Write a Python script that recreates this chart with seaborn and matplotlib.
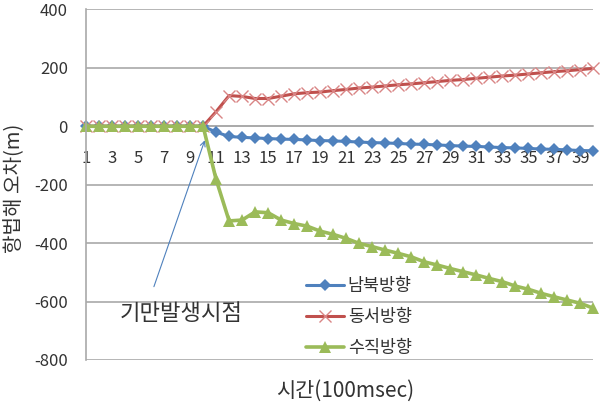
import numpy as np
import pandas as pd
import matplotlib
matplotlib.use('Agg')
import matplotlib.pyplot as plt
import seaborn as sns

sns.set_theme(style='white')
plt.rcParams['font.family'] = ['Noto Sans CJK KR', 'DejaVu Sans']

# time steps (100 msec)
steps = list(range(1, 41))

# 남북방향 (north-south)
ns_err = [0] * 10 + [-20, -35, -38, -40, -42, -44, -45, -47, -49, -50,
                     -52, -54, -56, -57, -59, -61, -62, -64, -66, -68,
                     -69, -71, -73, -74, -76, -78, -79, -81, -83, -84]
# 동서방향 (east-west)
ew_err = [0] * 10 + [50, 105, 102, 95, 95, 103, 111, 115, 117, 122,
                     126, 131, 134, 138, 142, 145, 149, 153, 157, 160,
                     164, 168, 172, 175, 179, 183, 187, 190, 194, 198]
# 수직방향 (vertical)
vt_err = [0] * 10 + [-182, -324, -321, -293, -296, -321, -333, -342, -359, -370,
                     -384, -401, -412, -424, -435, -447, -464, -475, -487, -498,
                     -509, -521, -532, -547, -558, -572, -584, -595, -606, -623]

series_names = ['남북방향', '동서방향', '수직방향']
y_ticks = [-800, -600, -400, -200, 0, 200, 400]

grid_c = '#A9A9A9'
txt_c = '#333333'

fig = plt.figure(figsize=(6.0, 4.03), dpi=100)
ax = fig.add_axes([0.1433, 0.1067, 0.8458, 0.870])

sns.lineplot(x=steps, y=ns_err, ax=ax, color='#4F81BD', marker='D', markersize=6.5,
             markeredgewidth=0, linewidth=2.2, label=series_names[0], clip_on=False)
sns.lineplot(x=steps, y=ew_err, ax=ax, color='#C0504D', marker='x', markersize=8,
             markeredgewidth=1.0, markeredgecolor='#D98585', linewidth=2.2,
             label=series_names[1], clip_on=False)
sns.lineplot(x=steps, y=vt_err, ax=ax, color='#9BBB59', marker='^', markersize=8.5,
             markeredgewidth=0, linewidth=2.6, label=series_names[2], clip_on=False)

ax.set_xlim(1, 40)
ax.set_ylim(-800, 400)
ax.set_yticks(y_ticks)
ax.set_yticklabels([str(v) for v in y_ticks])
ax.set_xticks(steps)
ax.set_xticklabels([str(s) if s % 2 == 1 else '' for s in steps])

ax.yaxis.grid(True, color=grid_c, linewidth=1.2)
ax.xaxis.grid(False)
ax.set_axisbelow(True)

for side in ['top', 'right']:
    ax.spines[side].set_visible(False)
ax.spines['left'].set_color(grid_c)
ax.spines['left'].set_linewidth(1.2)
ax.spines['bottom'].set_position(('data', 0))
ax.spines['bottom'].set_color(grid_c)
ax.spines['bottom'].set_linewidth(1.2)
ax.spines['bottom'].set_zorder(0.5)

ax.tick_params(axis='x', direction='out', length=4, width=1, color=grid_c,
               labelsize=12, labelcolor=txt_c, pad=13)
ax.tick_params(axis='y', direction='out', length=4, width=1, color=grid_c,
               labelsize=12, labelcolor=txt_c, pad=9)

ax.set_ylabel('항법해 오차(m)', fontsize=14.5, color=txt_c)
ax.yaxis.set_label_coords(-0.12, 0.49)
fig.text(0.575, 0.003, '시간(100msec)', fontsize=15, color=txt_c, ha='center', va='bottom')

ax.annotate('', xy=(10.2, -39), xytext=(6.15, -558),
            arrowprops=dict(arrowstyle='->', color='#4F81BD', lw=0.8, mutation_scale=9))
ax.text(8.3, -640, '기만발생시점', fontsize=16, color=txt_c, ha='center', va='center')

leg = ax.legend(loc='upper left', bbox_to_anchor=(0.51, 0.312),
                bbox_transform=fig.transFigure, frameon=False, fontsize=12.5,
                handlelength=2.2, handletextpad=0.2, labelspacing=0.75,
                borderpad=0, borderaxespad=0)
for t in leg.get_texts():
    t.set_color(txt_c)

fig.savefig('out.png', dpi=100)
